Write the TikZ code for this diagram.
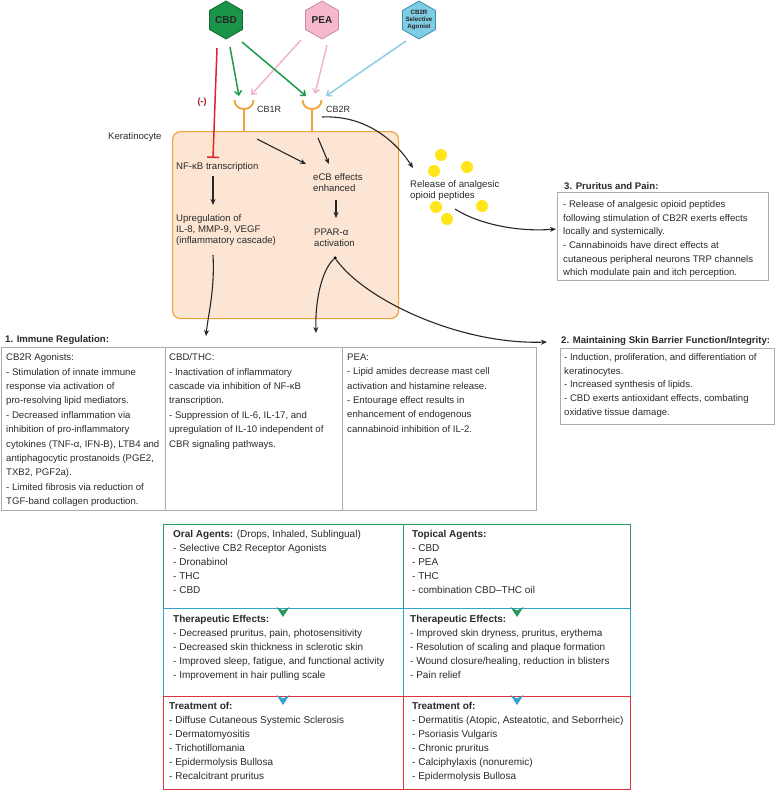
\documentclass[tikz,border=0pt]{standalone}
\usepackage{fontspec}
\setmainfont{Liberation Sans}
\usetikzlibrary{arrows.meta,shapes.geometric}
\definecolor{txt}{HTML}{2A2A2A}
\definecolor{cbdg}{HTML}{1A9448}
\definecolor{cbdgd}{HTML}{116A34}
\definecolor{peap}{HTML}{F5B8CF}
\definecolor{peapd}{HTML}{C98AA2}
\definecolor{cbb}{HTML}{80CDE3}
\definecolor{cbbd}{HTML}{3A8FB0}
\definecolor{garr}{HTML}{1F9A4A}
\definecolor{parr}{HTML}{F2B4CA}
\definecolor{barr}{HTML}{8FCDE2}
\definecolor{redl}{HTML}{E02424}
\definecolor{dred}{HTML}{A01818}
\definecolor{orng}{HTML}{F2A23C}
\definecolor{peach}{HTML}{FDE5D3}
\definecolor{yel}{HTML}{FFE51A}
\definecolor{gbox}{HTML}{ABABAB}
\definecolor{tgreen}{HTML}{2A9A5C}
\definecolor{tblue}{HTML}{2EA5CF}
\definecolor{tred}{HTML}{E0303E}
\begin{document}
\begin{tikzpicture}[x=1pt,y=-1pt,
  body/.style={font=\fontsize{9.6}{14.4}\selectfont, align=left, inner sep=0pt, anchor=north west, text=txt},
  inbox/.style={font=\fontsize{9.6}{11}\selectfont, align=left, inner sep=0pt, anchor=north west, text=txt},
  side/.style={font=\fontsize{9.6}{13.6}\selectfont, align=left, inner sep=0pt, anchor=north west, text=txt},
  tbl/.style={font=\fontsize{10}{14}\selectfont, align=left, inner sep=0pt, anchor=north west, text=txt},
  ttl/.style={font=\bfseries\fontsize{9.6}{11}\selectfont, inner sep=0pt, anchor=west, text=txt},
  hexa/.style={regular polygon, regular polygon sides=6, shape border rotate=30, minimum size=38pt, inner sep=0pt, line width=0.8pt},
  garrow/.style={draw=garr, line width=1.5pt, -{Straight Barb[length=4pt,width=7pt]}},
  parrow/.style={draw=parr, line width=1.5pt, -{Straight Barb[length=4pt,width=7pt]}},
  barrow/.style={draw=barr, line width=1.5pt, -{Straight Barb[length=4pt,width=7pt]}},
  karrow/.style={draw=black!85, line width=1.1pt, -{Stealth[length=6pt,width=5pt]}},
  rec/.style={draw=orng, line width=1.8pt},
  dotn/.style={circle, fill=yel, inner sep=0pt, minimum size=12pt},
  infobox/.style={draw=gbox, line width=0.8pt}
]
\useasboundingbox (0,0) rectangle (777,792);

% hexagons
\node[hexa, fill=cbdg, draw=cbdgd, label={[font=\bfseries\fontsize{10}{10}\selectfont, text=black!85]center:CBD}] (cbd) at (226,20) {};
\node[hexa, fill=peap, draw=peapd, label={[font=\bfseries\fontsize{10}{10}\selectfont, text=black!85]center:PEA}] (pea) at (322,20) {};
\node[hexa, fill=cbb, draw=cbbd, label={[font=\bfseries\fontsize{6.2}{6.8}\selectfont, text=black!85, align=center]center:CB2R\\Selective\\Agonist}] (cbr) at (419,20) {};

% keratinocyte cell
\node[draw=orng, fill=peach, line width=1.2pt, rounded corners=8pt, minimum width=226pt, minimum height=187pt, inner sep=0pt, anchor=north west] (cell) at (172,131) {};
\node[font=\fontsize{9.6}{11}\selectfont, text=txt, inner sep=0pt, anchor=west] (kera) at (108,137) {Keratinocyte};

% receptors
\coordinate (cb1L) at (234.5,100); \coordinate (cb1R) at (253.5,100);
\coordinate (cb1b) at (244,109); \coordinate (cb1s) at (244,131);
\coordinate (cb2L) at (302.5,100); \coordinate (cb2R) at (321.5,100);
\coordinate (cb2b) at (312,109); \coordinate (cb2s) at (312,131);
\draw[rec] (cb1L) .. controls +(0,12) and +(0,12) .. (cb1R);
\draw[rec] (cb1b) -- (cb1s);
\draw[rec] (cb2L) .. controls +(0,12) and +(0,12) .. (cb2R);
\draw[rec] (cb2b) -- (cb2s);
\node[font=\fontsize{9}{10}\selectfont, text=txt, inner sep=0pt, anchor=west] (cb1lab) at (257,109) {CB1R};
\node[font=\fontsize{9}{10}\selectfont, text=txt, inner sep=0pt, anchor=west] (cb2lab) at (326,109) {CB2R};

% ligand arrows
\coordinate (cbdA) at (230,47); \coordinate (cb1A) at (239,96);
\coordinate (cbdB) at (242,42); \coordinate (cb2A) at (306,96);
\coordinate (peaA) at (301,40); \coordinate (cb1B) at (251,95);
\coordinate (peaB) at (327,45); \coordinate (cb2B) at (315,94);
\coordinate (cbrA) at (406,41); \coordinate (cb2C) at (326,96);
\draw[parrow] (peaA) -- (cb1B);
\draw[parrow] (peaB) -- (cb2B);
\draw[barrow] (cbrA) -- (cb2C);
\draw[garrow] (cbdA) -- (cb1A);
\draw[garrow] (cbdB) -- (cb2A);

% inhibition
\coordinate (rS) at (217,48); \coordinate (rE) at (213,158);
\draw[draw=redl, line width=1.5pt, -{Bar[width=12pt,line width=1.5pt]}] (rS) -- (rE);
\node[font=\bfseries\fontsize{9}{10}\selectfont, text=dred, inner sep=0pt] (minus) at (202,102) {(-)};

% cell texts
\node[font=\fontsize{9.6}{11}\selectfont, text=txt, inner sep=0pt, anchor=west] (nfkb) at (176,167) {NF-κB transcription};
\node[inbox] (upreg) at (176,214.5) {Upregulation of\\IL-8, MMP-9, VEGF\\(inflammatory cascade)};
\node[inbox] (ecb) at (313,173.5) {eCB effects\\enhanced};
\node[inbox] (ppar) at (314,228.5) {PPAR-α\\activation};
\node[circle, fill=black, inner sep=0pt, minimum size=3.5pt] (ppdot) at (335,258) {};

\coordinate (k1s) at (213,176); \coordinate (k1e) at (213,205);
\coordinate (k2s) at (213,255); \coordinate (k2e) at (206,336);
\coordinate (k3s) at (257,139); \coordinate (k3e) at (306,164);
\coordinate (k4s) at (318,138); \coordinate (k4e) at (329,164);
\coordinate (k5s) at (336,200); \coordinate (k5e) at (336,218);
\coordinate (k6e) at (316,333);
\coordinate (k7e) at (547,342);
\draw[karrow] (k1s) -- (k1e);
\draw[karrow] (k2s) .. controls (215,290) and (208,315) .. (k2e);
\draw[karrow] (k3s) -- (k3e);
\draw[karrow] (k4s) -- (k4e);
\draw[karrow] (k5s) -- (k5e);
\draw[karrow] (ppdot) .. controls (322,270) and (315,300) .. (k6e);
\draw[karrow] (ppdot) .. controls (365,300) and (460,345) .. (k7e);

% release of opioid peptides
\coordinate (c2s) at (322,117); \coordinate (relE) at (413,168);
\draw[karrow] (c2s) .. controls (365,115) and (395,140) .. (relE);
\node[dotn] (d1) at (441,155) {};
\node[dotn] (d2) at (434,171) {};
\node[dotn] (d3) at (467,167) {};
\node[dotn] (d4) at (436,207) {};
\node[dotn] (d5) at (482,206) {};
\node[dotn] (d6) at (447,219) {};
\node[font=\fontsize{9.6}{10.5}\selectfont, align=left, inner sep=0pt, anchor=north west, text=txt] (rel) at (410,180.5) {Release of analgesic\\opioid peptides};
\coordinate (relS) at (455,209); \coordinate (pruE) at (556,229);
\draw[karrow] (relS) .. controls (480,225) and (520,232) .. (pruE);

% 3. Pruritus and Pain
\node[ttl] (prut) at (564,186) {3. Pruritus and Pain:};
\node[infobox, minimum width=211pt, minimum height=88pt, inner sep=0pt, anchor=north west] (prub) at (557,192) {};
\node[side] (prux) at (563,200.5) {- Release of analgesic opioid peptides\\following stimulation of CB2R exerts effects\\locally and systemically.\\- Cannabinoids have direct effects at\\cutaneous peripheral neurons TRP channels\\which modulate pain and itch perception.};

% 2. Skin barrier
\node[ttl] (skt) at (561,341) {2. Maintaining Skin Barrier Function/Integrity:};
\node[infobox, minimum width=214pt, minimum height=76pt, inner sep=0pt, anchor=north west] (skb) at (560,348) {};
\node[side] (skx) at (564,353.5) {- Induction, proliferation, and differentiation of\\keratinocytes.\\- Increased synthesis of lipids.\\- CBD exerts antioxidant effects, combating\\oxidative tissue damage.};

% 1. Immune regulation
\node[ttl] (imt) at (5,340) {1. Immune Regulation:};
\node[infobox, minimum width=164pt, minimum height=163pt, inner sep=0pt, anchor=north west] (im1) at (1,347) {};
\node[infobox, minimum width=177pt, minimum height=163pt, inner sep=0pt, anchor=north west] (im2) at (165,347) {};
\node[infobox, minimum width=194pt, minimum height=163pt, inner sep=0pt, anchor=north west] (im3) at (342,347) {};
\node[body] (im1x) at (6,353.5) {CB2R Agonists:\\- Stimulation of innate immune\\response via activation of\\pro-resolving lipid mediators.\\- Decreased inflammation via\\inhibition of pro-inflammatory\\cytokines (TNF-α, IFN-B), LTB4 and\\antiphagocytic prostanoids (PGE2,\\TXB2, PGF2a).\\- Limited fibrosis via reduction of\\TGF-band collagen production.};
\node[body] (im2x) at (169,353.5) {CBD/THC:\\- Inactivation of inflammatory\\cascade via inhibition of NF-κB\\transcription.\\- Suppression of IL-6, IL-17, and\\upregulation of IL-10 independent of\\CBR signaling pathways.};
\node[body] (im3x) at (347,353.5) {PEA:\\- Lipid amides decrease mast cell\\activation and histamine release.\\- Entourage effect results in\\enhancement of endogenous\\cannabinoid inhibition of IL-2.};

% bottom table
\node[draw=tgreen, line width=1.2pt, minimum width=240pt, minimum height=84pt, inner sep=0pt, anchor=north west] (oral) at (163,524) {};
\node[draw=tgreen, line width=1.2pt, minimum width=227pt, minimum height=84pt, inner sep=0pt, anchor=north west] (topi) at (403,524) {};
\node[draw=tblue, line width=1.2pt, minimum width=240pt, minimum height=88pt, inner sep=0pt, anchor=north west] (eff1) at (163,608) {};
\node[draw=tblue, line width=1.2pt, minimum width=227pt, minimum height=88pt, inner sep=0pt, anchor=north west] (eff2) at (403,608) {};
\node[draw=tred, line width=1.2pt, minimum width=240pt, minimum height=93pt, inner sep=0pt, anchor=north west] (trt1) at (163,696) {};
\node[draw=tred, line width=1.2pt, minimum width=227pt, minimum height=93pt, inner sep=0pt, anchor=north west] (trt2) at (403,696) {};

\node[tbl] (oralx) at (173,530.5) {\textbf{Oral Agents:} (Drops, Inhaled, Sublingual)\\- Selective CB2 Receptor Agonists\\- Dronabinol\\- THC\\- CBD};
\node[tbl] (topix) at (412,530.5) {\textbf{Topical Agents:}\\- CBD\\- PEA\\- THC\\- combination CBD–THC oil};
\node[tbl] (eff1x) at (173,615.5) {\textbf{Therapeutic Effects:}\\- Decreased pruritus, pain, photosensitivity\\- Decreased skin thickness in sclerotic skin\\- Improved sleep, fatigue, and functional activity\\- Improvement in hair pulling scale};
\node[tbl] (eff2x) at (410,615.5) {\textbf{Therapeutic Effects:}\\- Improved skin dryness, pruritus, erythema\\- Resolution of scaling and plaque formation\\- Wound closure/healing, reduction in blisters\\- Pain relief};
\node[tbl] (trt1x) at (169,702.5) {\textbf{Treatment of:}\\- Diffuse Cutaneous Systemic Sclerosis\\- Dermatomyositis\\- Trichotillomania\\- Epidermolysis Bullosa\\- Recalcitrant pruritus};
\node[tbl] (trt2x) at (412,702.5) {\textbf{Treatment of:}\\- Dermatitis (Atopic, Asteatotic, and Seborrheic)\\- Psoriasis Vulgaris\\- Chronic pruritus\\- Calciphylaxis (nonuremic)\\- Epidermolysis Bullosa};

% chevrons
\coordinate (ch1) at (283,608); \coordinate (ch2) at (517,608);
\coordinate (ch3) at (283,696); \coordinate (ch4) at (517,696);
\fill[tgreen, shift={(ch1)}] (-6.5,-1) -- (0,9) -- (6.5,-1) -- (0,2.5) -- cycle;
\fill[tgreen, shift={(ch2)}] (-6.5,-1) -- (0,9) -- (6.5,-1) -- (0,2.5) -- cycle;
\fill[tblue, shift={(ch3)}] (-6.5,-1) -- (0,9) -- (6.5,-1) -- (0,2.5) -- cycle;
\fill[tblue, shift={(ch4)}] (-6.5,-1) -- (0,9) -- (6.5,-1) -- (0,2.5) -- cycle;
\end{tikzpicture}
\end{document}
